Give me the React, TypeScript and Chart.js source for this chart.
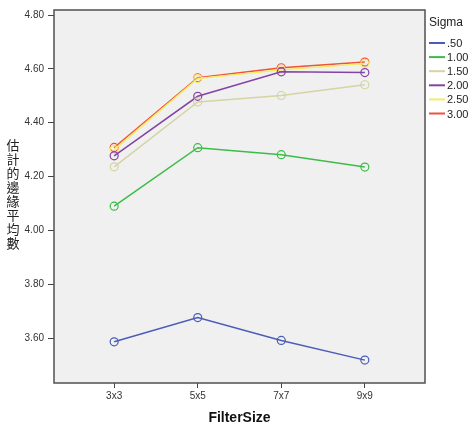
import React, { useEffect, useRef } from "react";
import { Chart, registerables } from "chart.js";

Chart.register(...registerables);

const categories = ["3x3", "5x5", "7x7", "9x9"];
const sigmaLabels = [".50", "1.00", "1.50", "2.00", "2.50", "3.00"];
const sigma050 = [3.586, 3.676, 3.591, 3.518];
const sigma100 = [4.09, 4.307, 4.281, 4.235];
const sigma150 = [4.236, 4.477, 4.501, 4.541];
const sigma200 = [4.277, 4.498, 4.589, 4.586];
const sigma250 = [4.3, 4.564, 4.597, 4.62];
const sigma300 = [4.308, 4.567, 4.604, 4.625];
const yTicks = [3.6, 3.8, 4.0, 4.2, 4.4, 4.6, 4.8];
const yTitle = "估計的邊緣平均數";
const xTitle = "FilterSize";
const legendTitle = "Sigma";

const seriesValues = [sigma050, sigma100, sigma150, sigma200, sigma250, sigma300];
const seriesColors = ["#4a5cb8", "#3cbc48", "#d4d4a4", "#8444a4", "#f4ec64", "#f0503c"];

const FONT = "'Liberation Sans', Arial, sans-serif";

export default function App() {
  const ref = useRef<HTMLCanvasElement | null>(null);

  useEffect(() => {
    document.body.style.margin = "0";
    const canvas = ref.current!;
    const framePlugin = {
      id: "frame",
      beforeDraw(chart: any) {
        const { ctx, chartArea: a } = chart;
        ctx.save();
        ctx.fillStyle = "#f0f0f0";
        ctx.fillRect(a.left, a.top, a.right - a.left, a.bottom - a.top);
        ctx.restore();
      },
      afterDraw(chart: any) {
        const { ctx, chartArea: a } = chart;
        ctx.save();
        ctx.strokeStyle = "#505050";
        ctx.lineWidth = 1.5;
        ctx.strokeRect(a.left, a.top, a.right - a.left, a.bottom - a.top);
        // y title stacked
        ctx.fillStyle = "#222";
        ctx.font = "13px 'Noto Sans CJK TC'";
        ctx.textAlign = "center";
        ctx.textBaseline = "middle";
        const chars = Array.from(yTitle);
        const step = 14;
        const startY = 145;
        chars.forEach((c, i) => ctx.fillText(c, 13, startY + i * step));
        // x title
        ctx.font = "bold 14px " + FONT;
        ctx.fillStyle = "#111";
        ctx.fillText(xTitle, (a.left + a.right) / 2, 418);
        // legend
        ctx.textAlign = "left";
        ctx.font = "12px " + FONT;
        ctx.fillStyle = "#222";
        ctx.fillText(legendTitle, a.right + 4, 23);
        ctx.font = "11px " + FONT;
        chart.data.datasets.forEach((ds: any, i: number) => {
          const y = 43 + i * 14.1;
          ctx.strokeStyle = ds.borderColor;
          ctx.lineWidth = 2;
          ctx.beginPath();
          ctx.moveTo(a.right + 4, y);
          ctx.lineTo(a.right + 20, y);
          ctx.stroke();
          ctx.fillStyle = "#222";
          ctx.fillText(ds.label, a.right + 22, y + 1);
        });
        ctx.restore();
      },
    };

    const chart = new Chart(canvas, {
      type: "line",
      data: {
        datasets: seriesValues.map((vals, i) => ({
          label: sigmaLabels[i],
          data: vals.map((v, j) => ({ x: j, y: v })),
          borderColor: seriesColors[i],
          backgroundColor: "transparent",
          pointBackgroundColor: "transparent",
          pointBorderColor: seriesColors[i],
          pointRadius: 4,
          pointBorderWidth: 1.2,
          borderWidth: 1.5,
          tension: 0,
        })),
      },
      options: {
        animation: false,
        responsive: false,
        devicePixelRatio: 1,
        layout: { padding: { top: 10, right: 46, left: 0, bottom: 0 } },
        plugins: { legend: { display: false }, tooltip: { enabled: false } },
        scales: {
          x: {
            type: "linear",
            min: -0.72,
            max: 3.72,
            afterBuildTicks: (s: any) => {
              s.ticks = categories.map((_, i) => ({ value: i }));
            },
            afterFit: (s: any) => {
              s.height = 44;
            },
            ticks: {
              callback: (v: any) => categories[v] ?? "",
              font: { size: 10, family: FONT },
              color: "#333",
              padding: 2,
              maxRotation: 0,
              autoSkip: false,
            },
            grid: { display: true, drawOnChartArea: false, drawTicks: true, tickLength: 5, color: "#444" },
            border: { display: false },
          },
          y: {
            type: "linear",
            min: 3.433,
            max: 4.8186,
            afterBuildTicks: (s: any) => {
              s.ticks = yTicks.map((v) => ({ value: v }));
            },
            afterFit: (s: any) => {
              s.width = 54;
            },
            ticks: {
              callback: (v: any) => Number(v).toFixed(2),
              font: { size: 10, family: FONT },
              color: "#333",
              padding: 4,
            },
            grid: { display: true, drawOnChartArea: false, drawTicks: true, tickLength: 6, color: "#444" },
            border: { display: false },
          },
        },
      },
      plugins: [framePlugin],
    } as any);
    return () => chart.destroy();
  }, []);

  return <canvas ref={ref} width={471} height={427} style={{ display: "block" }} />;
}
